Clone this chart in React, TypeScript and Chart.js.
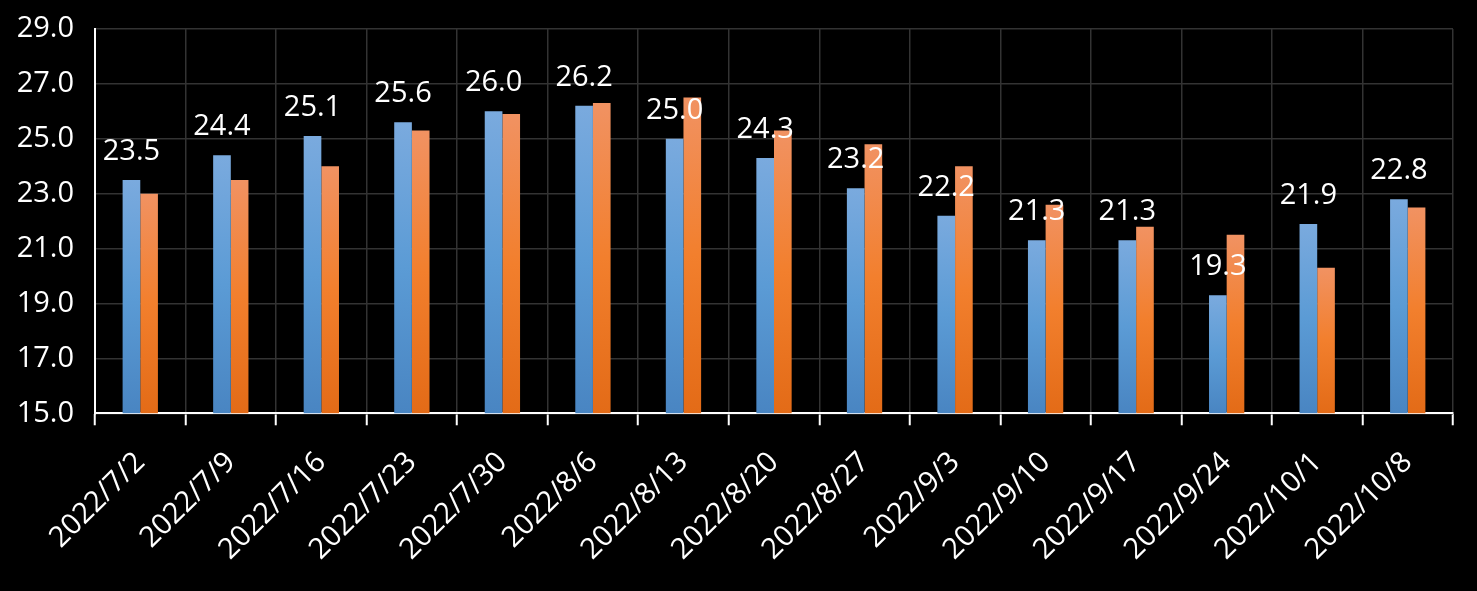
import React, { useEffect, useRef } from "react";
import { Chart, registerables } from "chart.js";

Chart.register(...registerables);

const categories = [
  "2022/7/2", "2022/7/9", "2022/7/16", "2022/7/23", "2022/7/30",
  "2022/8/6", "2022/8/13", "2022/8/20", "2022/8/27", "2022/9/3",
  "2022/9/10", "2022/9/17", "2022/9/24", "2022/10/1", "2022/10/8",
];
const seriesBlue = [23.5, 24.4, 25.1, 25.6, 26.0, 26.2, 25.0, 24.3, 23.2, 22.2, 21.3, 21.3, 19.3, 21.9, 22.8];
const seriesOrange = [23.0, 23.5, 24.0, 25.3, 25.9, 26.3, 26.5, 25.3, 24.8, 24.0, 22.6, 21.8, 21.5, 20.3, 22.5];
const yMin = 15;
const yMax = 29;
const yStep = 2;

const FONT = "'Open Sans', 'Noto Sans', sans-serif";

function makeGradient(stops: [number, string][]) {
  return (ctx: any) => {
    const chart = ctx.chart;
    if (!chart.chartArea || ctx.raw == null) return stops[1][1];
    const y = chart.scales.y;
    const top = y.getPixelForValue(ctx.raw);
    const bottom = y.getPixelForValue(yMin);
    if (!isFinite(top) || !isFinite(bottom) || top === bottom) return stops[1][1];
    const g = chart.ctx.createLinearGradient(0, top, 0, bottom);
    stops.forEach(([o, c]) => g.addColorStop(o, c));
    return g;
  };
}

const labelPlugin = {
  id: "blueLabels",
  afterDatasetsDraw(chart: any) {
    const meta = chart.getDatasetMeta(0);
    const ctx = chart.ctx;
    ctx.save();
    ctx.fillStyle = "#ffffff";
    ctx.font = `29px ${FONT}`;
    ctx.textAlign = "center";
    ctx.textBaseline = "alphabetic";
    meta.data.forEach((el: any, i: number) => {
      const v = seriesBlue[i];
      ctx.fillText(v.toFixed(1), el.x, el.y - 20);
    });
    ctx.restore();
  },
};

export default function App() {
  const ref = useRef<HTMLCanvasElement>(null);
  useEffect(() => {
    document.body.style.margin = "0";
    document.body.style.background = "#000";
    const chart = new Chart(ref.current!, {
      type: "bar",
      data: {
        labels: categories,
        datasets: [
          {
            data: seriesBlue,
            backgroundColor: makeGradient([[0, "#7aaade"], [0.5, "#5b9bd5"], [1, "#4985c2"]]),
            categoryPercentage: 0.39,
            barPercentage: 1,
          },
          {
            data: seriesOrange,
            backgroundColor: makeGradient([[0, "#f19262"], [0.5, "#f27f2d"], [1, "#e36b17"]]),
            categoryPercentage: 0.39,
            barPercentage: 1,
          },
        ],
      },
      options: {
        responsive: false,
        animation: false,
        layout: { padding: { top: 29, right: 24, bottom: 4, left: 0 } },
        plugins: { legend: { display: false }, tooltip: { enabled: false } },
        scales: {
          x: {
            grid: {
              color: "#333333",
              lineWidth: 1.5,
              tickColor: "#ffffff",
              tickLength: 12,
              tickWidth: 2,
              offset: true,
            },
            border: { color: "#ffffff", width: 2 },
            ticks: {
              color: "#ffffff",
              font: { family: FONT, size: 29 },
              minRotation: 45,
              maxRotation: 45,
              padding: 20,
              autoSkip: false,
            },
          },
          y: {
            min: yMin,
            max: yMax,
            afterFit: (s: any) => { s.width = 95; },
            grid: { color: "#333333", lineWidth: 1.5, drawTicks: true, tickLength: 21, tickColor: "rgba(0,0,0,0)" },
            border: { color: "#ffffff", width: 2 },
            ticks: {
              stepSize: yStep,
              color: "#ffffff",
              font: { family: FONT, size: 29 },
              padding: 0,
              callback: (v: any) => Number(v).toFixed(1),
            },
          },
        },
      },
      plugins: [labelPlugin],
    });
    return () => chart.destroy();
  }, []);
  return (
    <div style={{ position: "fixed", left: 0, top: 0, width: 1477, height: 591, background: "#000" }}>
      <canvas ref={ref} width={1477} height={591} style={{ width: 1477, height: 591, display: "block" }} />
    </div>
  );
}
